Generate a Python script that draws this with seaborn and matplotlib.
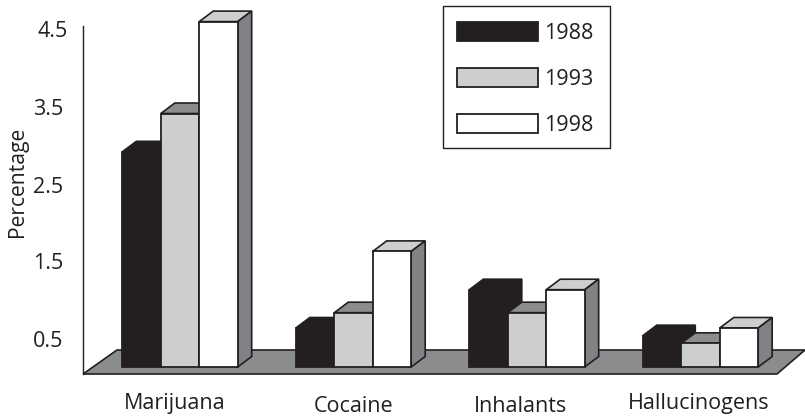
#!/usr/bin/env python3

import matplotlib
matplotlib.use('Agg')
import matplotlib.pyplot as plt
from matplotlib.patches import Polygon, Rectangle
from matplotlib.transforms import ScaledTranslation
import pandas as pd
import seaborn as sns

# values
drugs = ['Marijuana', 'Cocaine', 'Inhalants', 'Hallucinogens']
years = ['1988', '1993', '1998']
pct_1988 = [2.9, 0.6, 1.1, 0.5]
pct_1993 = [3.4, 0.8, 0.8, 0.4]
pct_1998 = [4.6, 1.6, 1.1, 0.6]
y_ticks = [0.5, 1.5, 2.5, 3.5, 4.5]

W, H = 805, 420
INK = '#231f20'
front_colors = ['#231f20', '#cdced0', '#ffffff']
top_colors = ['#231f20', '#8a8c8e', '#cdced0']
side_colors = ['#231f20', '#808285', '#808285']

# pixel calibration of the scales
X0, X_STEP = 180.0, 173.5       # px of first group centre, px between groups
Y_REF, Y_STEP = 328.0, 76.6     # px of value 0.6, px per unit
DEPTH_X, DEPTH_Y = 14.0, 10.5   # 3d offset in px


def px(x, y):
    return (x - X0) / X_STEP, 0.6 + (Y_REF - y) / Y_STEP


plt.rcParams['font.family'] = ['Open Sans', 'DejaVu Sans']
plt.rcParams['font.size'] = 15.5

df = pd.DataFrame({
    'drug': drugs * 3,
    'year': [y for y in years for _ in drugs],
    'pct': pct_1988 + pct_1993 + pct_1998,
})

fig = plt.figure(figsize=(W / 100, H / 100), dpi=100)
ax = fig.add_axes([0, 0, 1, 1])
ax.patch.set_visible(False)

sns.barplot(
    data=df, x='drug', y='pct', hue='year', order=drugs, hue_order=years,
    palette=front_colors, width=0.665, gap=0, saturation=1, errorbar=None,
    edgecolor=INK, linewidth=1.3, ax=ax,
)
handles, labels = ax.get_legend_handles_labels()
ax.get_legend().remove()

ax.set_xlim(px(0, 0)[0], px(W, 0)[0])
ax.set_ylim(px(0, H)[1], px(0, 0)[1])

base = px(0, 367)[1]
dx = DEPTH_X / X_STEP
dy = DEPTH_Y / Y_STEP

# floor
floor = Polygon([px(83, 374), px(777, 374), px(805, 350), px(117, 350)],
                closed=True, facecolor='#8a8c8e', edgecolor=INK, linewidth=1.2,
                zorder=1)
ax.add_patch(floor)

# extrude each bar, left to right so the later ones cover the earlier ones
for i, cont in enumerate(ax.containers):
    for bar in cont:
        top = bar.get_y() + bar.get_height()
        bar.set_y(base)
        bar.set_height(top - base)
        bar.set_zorder(4 + 2 * i)
        x0 = bar.get_x()
        x1 = x0 + bar.get_width()
        edge = front_colors[i] if i == 0 else INK
        bar.set_edgecolor(edge)
        ax.add_patch(Polygon([(x0, top), (x1, top), (x1 + dx, top + dy), (x0 + dx, top + dy)],
                             closed=True, facecolor=top_colors[i], edgecolor=edge,
                             linewidth=1.2, zorder=3 + 2 * i))
        ax.add_patch(Polygon([(x1, base), (x1 + dx, base + dy), (x1 + dx, top + dy), (x1, top)],
                             closed=True, facecolor=side_colors[i], edgecolor=edge,
                             linewidth=1.2, zorder=3 + 2 * i))

# axis
for s in ['top', 'right', 'bottom']:
    ax.spines[s].set_visible(False)
ax.spines['left'].set_position(('data', px(83, 0)[0]))
ax.spines['left'].set_bounds(px(0, 374)[1], px(0, 26)[1])
ax.spines['left'].set_color(INK)
ax.spines['left'].set_linewidth(1.0)
ax.set_yticks(y_ticks)
ax.set_yticklabels([str(v) for v in y_ticks])
ax.tick_params(axis='y', length=0, pad=14.4, labelcolor=INK, labelsize=15.5)
ax.set_xticks([])
ax.set_xlabel('')
ax.set_ylabel('')

# the printed tick labels do not sit exactly on the bar scale, nudge them (px)
tick_nudge = [(0, -3), (0, -2), (0, -2.5), (0, -1), (5, 0)]
for lab, (nx, ny) in zip(ax.get_yticklabels(), tick_nudge):
    lab.set_transform(lab.get_transform() + ScaledTranslation(nx / 100, ny / 100, fig.dpi_scale_trans))

fig.text(17 / W, 1 - 182 / H, 'Percentage', rotation=90, ha='center', va='center',
         color=INK, fontsize=15.2)

# category labels sit at slightly different places in the original
label_px = [(174.5, 403), (353.5, 406), (520, 406), (699, 403)]
for name, (lx, ly) in zip(drugs, label_px):
    fig.text(lx / W, 1 - ly / H, name, ha='center', va='center', color=INK, fontsize=15.5)

# legend box is drawn apart, its padding is not even in the original
fig.add_artist(Rectangle((443 / W, 1 - 148 / H), 167 / W, 142 / H, transform=fig.transFigure,
                         facecolor='white', edgecolor=INK, linewidth=1.0, zorder=19))
leg = fig.legend(
    handles, labels, loc='upper left', bbox_to_anchor=(457 / W, 1 - 22 / H),
    frameon=False, labelcolor=INK,
    fontsize=15.5, borderaxespad=0, borderpad=0, handlelength=3.76, handleheight=0.98,
    labelspacing=1.114, handletextpad=0.28,
)
leg.set_zorder(20)

fig.savefig('out.png', dpi=100)
